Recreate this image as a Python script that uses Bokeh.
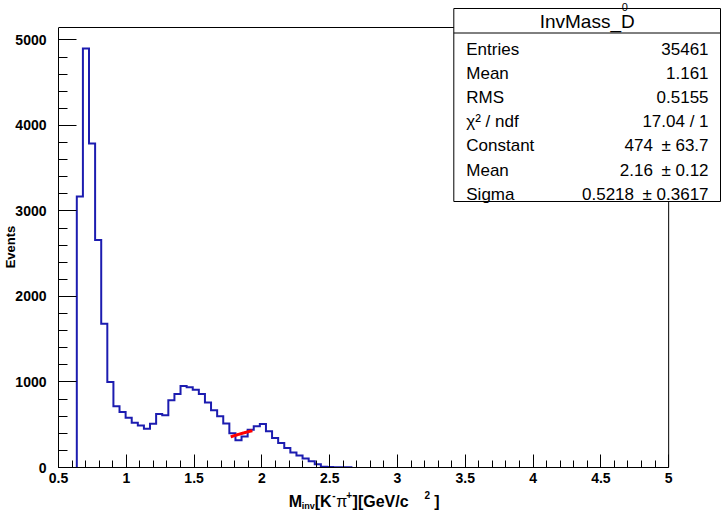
import numpy as np
from bokeh.plotting import figure
from bokeh.layouts import column
from bokeh.models import Range1d, FixedTicker
from bokeh.core.properties import value
from bokeh.embed import file_html
from bokeh.resources import INLINE

# ---------------- data ----------------
hist_min = 0.5
hist_max = 5.0
n_bins = 100
first_bin = 3          # index of first non-empty bin
counts = [3170, 4900, 3790, 2660, 1680, 1000, 715, 649, 582, 524,
          490, 453, 512, 625, 612, 785, 860, 952, 938, 910,
          860, 760, 670, 600, 515, 400, 320, 363, 440, 481,
          508, 424, 346, 287, 228, 174, 141, 106, 72, 38,
          10, 5, 3, 2, 2]

x_tick_values = [0.5, 1.0, 1.5, 2.0, 2.5, 3.0, 3.5, 4.0, 4.5, 5.0]
x_tick_labels = ["0.5", "1", "1.5", "2", "2.5", "3", "3.5", "4", "4.5", "5"]
x_minor_step = 0.1
y_tick_values = [0, 1000, 2000, 3000, 4000, 5000]
y_tick_labels = ["0", "1000", "2000", "3000", "4000", "5000"]
y_minor_step = 200

stat_title = "InvMass_D"
stat_title_sup = "0"
stat_names = ["Entries", "Mean", "RMS", "\u03c7\u00b2 / ndf", "Constant", "Mean", "Sigma"]
stat_values = ["35461", "1.161", "0.5155", "17.04 / 1",
               "474\u2002\u00b1 63.7", "2.16\u2002\u00b1 0.12", "0.5218\u2002\u00b1 0.3617"]

fit_constant = 474.0
fit_mean = 2.16
fit_sigma = 0.5218
fit_range = (1.77, 1.93)

y_title = "Events"
# x title: M_{inv}[K^{-}pi^{+}][GeV/c^{2}]  (text, role)
x_title_parts = [("M", "main"), ("inv", "sub"), ("[K", "main"), ("-", "sup"),
                 ("\u03c0", "greek"), ("+", "sup"), ("][GeV/c", "main"),
                 ("2", "sup"), ("]", "main")]

# ---------------- layout ----------------
W, H = 723, 517
FRAME_L, FRAME_R, FRAME_T, FRAME_B = 56, 668, 27, 467
H1 = 489                       # height of main figure; rest holds the x title
ymax = 1.05 * max(counts)
sx = (FRAME_R - FRAME_L) / (hist_max - hist_min)
sy = (FRAME_B - FRAME_T) / ymax

def X(px):
    return hist_min + (px - FRAME_L) / sx

def Y(py):
    return (FRAME_B - py) / sy

FONT = "Liberation Sans"
BLUE = "#1c1cb0"

p = figure(width=W, height=H1, output_backend="svg", toolbar_location=None,
           x_range=Range1d(hist_min, X(W)), y_range=Range1d(0, Y(0)),
           min_border_left=FRAME_L, min_border_right=0, min_border_top=0,
           min_border_bottom=H1 - FRAME_B)
p.background_fill_color = "white"
p.border_fill_color = "white"
p.outline_line_color = None
p.xgrid.visible = False
p.ygrid.visible = False

# x axis
x_minor = [round(hist_min + x_minor_step * i, 3)
           for i in range(int(round((hist_max - hist_min) / x_minor_step)) + 1)]
p.xaxis.ticker = FixedTicker(ticks=x_tick_values, minor_ticks=x_minor)
p.xaxis.major_label_overrides = {v: t for v, t in zip(x_tick_values, x_tick_labels)}
p.xaxis.bounds = (hist_min, hist_max)
p.xaxis.axis_line_color = "black"
p.xaxis.major_tick_in = 13
p.xaxis.major_tick_out = 0
p.xaxis.minor_tick_in = 7
p.xaxis.minor_tick_out = 0
p.xaxis.major_tick_line_color = "black"
p.xaxis.minor_tick_line_color = "black"
p.xaxis.major_label_standoff = 5
p.xaxis.major_label_text_font = FONT
p.xaxis.major_label_text_font_style = "bold"
p.xaxis.major_label_text_font_size = "14px"
p.xaxis.major_label_text_color = "black"

# y axis
y_minor = list(range(0, int(max(y_tick_values)) + 1, y_minor_step))
p.yaxis.ticker = FixedTicker(ticks=y_tick_values, minor_ticks=y_minor)
p.yaxis.major_label_overrides = {v: t for v, t in zip(y_tick_values, y_tick_labels)}
p.yaxis.bounds = (0, ymax)
p.yaxis.axis_line_color = "black"
p.yaxis.major_tick_in = 18
p.yaxis.major_tick_out = 0
p.yaxis.minor_tick_in = 9
p.yaxis.minor_tick_out = 0
p.yaxis.major_tick_line_color = "black"
p.yaxis.minor_tick_line_color = "black"
p.yaxis.major_label_standoff = 12
p.yaxis.major_label_text_font = FONT
p.yaxis.major_label_text_font_style = "bold"
p.yaxis.major_label_text_font_size = "14px"
p.yaxis.major_label_text_color = "black"
# trailing en-spaces move the (bottom-to-top) title a little further down the axis
p.yaxis.axis_label = y_title + "\u2002" * 4
p.yaxis.axis_label_text_font = FONT
p.yaxis.axis_label_text_font_style = "bold"
p.yaxis.axis_label_text_font_size = "13px"
p.yaxis.axis_label_text_color = "black"
p.yaxis.axis_label_standoff = -6

# remaining frame lines (top, right)
p.segment(x0=[hist_min, hist_max], y0=[ymax, 0], x1=[hist_max, hist_max], y1=[ymax, ymax],
          line_color="black", line_width=1)

# histogram outline
bw = (hist_max - hist_min) / n_bins
xs, ys = [], []
xs.append(hist_min + first_bin * bw); ys.append(0)
for i, c in enumerate(counts):
    lo = hist_min + (first_bin + i) * bw
    xs += [lo, lo + bw]
    ys += [c, c]
xs.append(hist_min + (first_bin + len(counts)) * bw); ys.append(0)
p.line(xs, ys, line_color=BLUE, line_width=2, line_join="miter")

# gaussian fit curve
fx = np.linspace(fit_range[0], fit_range[1], 60)
fy = fit_constant * np.exp(-0.5 * ((fx - fit_mean) / fit_sigma) ** 2)
p.line(fx, fy, line_color="#ff0000", line_width=3)

# stats box
BOX_L, BOX_R, BOX_T, BOX_B, SEP = 452.5, 720, 8, 201, 32.5
p.quad(left=[X(BOX_L)], right=[X(BOX_R)], top=[Y(BOX_T)], bottom=[Y(BOX_B)],
       fill_color="white", line_color="black", line_width=1)
p.segment(x0=[X(BOX_L)], x1=[X(BOX_R)], y0=[Y(SEP)], y1=[Y(SEP)],
          line_color="black", line_width=1)
p.text(x=[X((BOX_L + BOX_R) / 2)], y=[Y(21)], text=[stat_title],
       text_font=value(FONT), text_font_size="19px", text_align="center",
       text_baseline="middle", text_color="black")
p.text(x=[X(624)], y=[Y(6)], text=[stat_title_sup],
       text_font=value(FONT), text_font_size="11px", text_align="center",
       text_baseline="middle", text_color="black")
row_y = [Y(48.5 + 24.2 * i) for i in range(len(stat_names))]
p.text(x=[X(465)] * len(stat_names), y=row_y, text=stat_names,
       text_font=value(FONT), text_font_size="17px", text_align="left",
       text_baseline="middle", text_color="black")
p.text(x=[X(708)] * len(stat_values), y=row_y, text=stat_values,
       text_font=value(FONT), text_font_size="17px", text_align="right",
       text_baseline="middle", text_color="black")

# ---------------- x title strip ----------------
H2 = H - H1
p2 = figure(width=W, height=H2, output_backend="svg", toolbar_location=None,
            x_range=p.x_range, y_range=Range1d(0, H2),
            x_axis_type=None, y_axis_type=None,
            min_border_left=0, min_border_right=0, min_border_top=0, min_border_bottom=0)
p2.background_fill_color = "white"
p2.border_fill_color = "white"
p2.outline_line_color = None
p2.xgrid.visible = False
p2.ygrid.visible = False

BASE = 501 - H1           # baseline (px from top of strip)
part_x = [287, 300, 313, 330.5, 334.5, 344.5, 351, 423, 433]
role_style = {"main": ("16px", "bold", 0), "sub": ("9px", "bold", 4),
              "sup": ("10px", "bold", -7), "greek": ("16px", "normal", 0)}
for (txt, role), px in zip(x_title_parts, part_x):
    size, style, dy = role_style[role]
    p2.text(x=[X(px)], y=[H2 - (BASE + dy)], text=[txt],
            text_font=value(FONT), text_font_size=size, text_font_style=style,
            text_align="left", text_baseline="alphabetic", text_color="black")

layout = column(p, p2, spacing=0)
open("out.html", "w").write(file_html(layout, INLINE))
